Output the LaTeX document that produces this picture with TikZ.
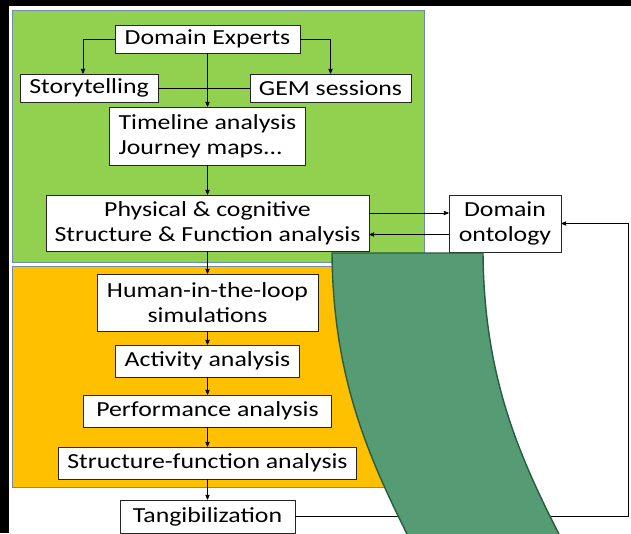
\documentclass[tikz,border=0pt]{standalone}
\usepackage{fontspec}
\setmainfont[FakeStretch=1.2]{Carlito}
\usepackage{xcolor}
\usepackage{tikz}
\usetikzlibrary{arrows,positioning}

\definecolor{leafgreen}{RGB}{146,208,80}
\definecolor{amber}{RGB}{255,192,0}
\definecolor{bandgreen}{RGB}{85,155,115}
\definecolor{bandedge}{RGB}{40,92,62}
\definecolor{rimblue}{RGB}{110,140,170}

\begin{document}
\begin{tikzpicture}[x=1pt, y=-1pt, ->, >=stealth', line width=0.8pt]

	\tikzstyle{box}=[draw=black!85, fill=white, inner sep=0pt, align=center,
		font=\fontsize{21.5}{25}\selectfont, text=black]
	\tikzstyle{phase}=[draw=rimblue, line width=0.6pt]
	\tikzstyle{link}=[-, line width=0.8pt]

	\useasboundingbox (0,0) rectangle (631,533);
	\clip (0,0) rectangle (631,533);

	% Phase backgrounds
	\fill[white] (0,0) rectangle (631,533);
	\draw[phase, fill=leafgreen, -] (12,10) rectangle (424,262);
	\draw[phase, fill=amber, -] (12,266) rectangle (424,487);

	% Elicitation part
	\node[box, minimum width=185pt, minimum height=28pt] (experts) at (207.5,39) {Domain Experts};
	\node[box, minimum width=138pt, minimum height=28pt] (story) at (89,88) {Storytelling};
	\node[box, minimum width=161pt, minimum height=28pt] (gem) at (330.5,88) {GEM sessions};
	\node[box, minimum width=196pt, minimum height=58pt, align=left] (timeline) at (207.5,136) {Timeline analysis\\Journey maps...};
	\node[box, minimum width=323pt, minimum height=56pt] (physical) at (207.5,223) {Physical \& cognitive\\Structure \& Function analysis};
	\node[box, minimum width=112pt, minimum height=57pt] (ontology) at (505,223.5) {Domain\\ontology};

	% Simulation part
	\node[box, minimum width=221pt, minimum height=57pt] (hitl) at (207.5,302.5) {Human-in-the-loop\\simulations};
	\node[box, minimum width=184pt, minimum height=32pt] (activity) at (207.5,361) {Activity analysis};
	\node[box, minimum width=248pt, minimum height=32pt] (perf) at (207.5,411) {Performance analysis};
	\node[box, minimum width=298pt, minimum height=32pt] (sfa) at (207.5,463) {Structure-function analysis};
	\node[box, minimum width=175pt, minimum height=33pt] (tang) at (207.5,516.5) {Tangibilization};

	\coordinate (turn) at (628,516.5);

	% From experts
	\draw (experts.west) -| ([xshift=-6pt]story.north);
	\draw (experts.east) -| (gem.north);
	\draw (experts.south) -- (timeline.north);
	\draw[link] (story.east) -- (gem.west);

	% Down the column
	\draw (timeline) -- (physical);
	\draw (physical) -- (hitl);
	\draw (hitl) -- (activity);
	\draw (activity) -- (perf);
	\draw (perf) -- (sfa);
	\draw (sfa) -- (tang);

	% Ontology loop
	\draw ([yshift=10pt]physical.east) -- ([yshift=10pt]physical.east -| ontology.west);
	\draw ([yshift=-11pt]ontology.west) -- ([yshift=-11pt]ontology.west -| physical.east);
	\draw (tang.east) -- (turn) |- (ontology.east);

	% Curved band
	\draw[bandedge, fill=bandgreen, line width=1.4pt, -]
		(332,253) .. controls (333,380) and (370,460) .. (410,540)
		-- (562,540) .. controls (521,460) and (484,380) .. (483,253) -- cycle;

	% Screen edges
	\fill[black] (0,0) rectangle (631,6);
	\fill[black] (0,0) rectangle (9,533);

\end{tikzpicture}
\end{document}
